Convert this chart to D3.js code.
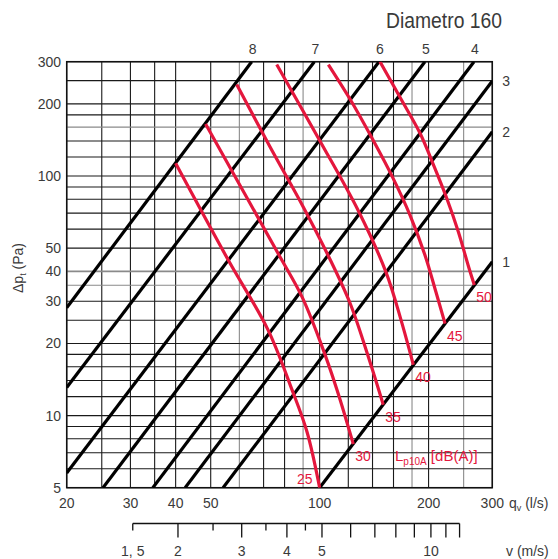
<!DOCTYPE html>
<html>
<head>
<meta charset="utf-8">
<script src="https://cdn.jsdelivr.net/npm/d3@7"></script>
<style>
  html, body { margin: 0; padding: 0; background: #fff; }
  svg { display: block; font-family: "Liberation Sans", Arial, sans-serif; }
</style>
</head>
<body>
<svg id="chart" width="558" height="559"></svg>
<script>
// ---------- data ----------
const title = "Diametro 160";
const qGrid = [20, 25, 30, 35, 40, 50, 60, 70, 80, 90, 100, 120, 140, 160, 180, 200, 250, 300];
const qGridLight = [60, 90, 180, 250];
const dpGrid = [5, 6, 7, 8, 9, 10, 12, 14, 16, 18, 20, 25, 30, 35, 40, 50, 60, 70, 80, 90, 100, 120, 140, 160, 180, 200, 250, 300];
const dpGridLight = [160, 40, 35];
const qTicks = [20, 30, 40, 50, 100, 200, 300];
const dpTicks = [5, 10, 20, 30, 40, 50, 100, 200, 300];

// velocity scale (m/s) for the Ø160 duct
const vTicks = [1.5, 2, 2.5, 3, 3.5, 4, 4.5, 5, 6, 7, 8, 9, 10, 11, 12];
const vShortTicks = [1.5, 2.5, 3.5, 4.5];
const vLabels = [1.5, 2, 3, 4, 5, 10];
const qPerV = 20.3; // l/s per m/s

// black system lines (damper positions) : start [q, dp] and end [q, dp]
const lineNames = ["1", "2", "3", "4", "5", "6", "7", "8"];
const lineStart = [[100, 5], [54.1, 5], [42.5, 5], [34.6, 5], [25.2, 5], [20, 5.76], [20, 13.1], [20, 28.2]];
const lineEnd   = [[300, 43.9], [300, 153], [300, 249], [267, 300], [195.4, 300], [145.9, 300], [96.7, 300], [64.9, 300]];

// red sound level curves Lp10A [dB(A)]  (points [q, dp])
const curveNames = ["25", "30", "35", "40", "45", "50"];
const curve25 = [[40, 113], [55.9, 44.6], [72.0, 22.8], [83.9, 12.8], [92.3, 8.54], [100, 5]];
const curve30 = [[48.4, 164.8], [77.2, 46.8], [89.4, 31.3], [100.2, 20.5], [111.7, 12.8], [123.9, 7.6]];
const curve35 = [[59, 241], [72.9, 132.5], [90.1, 74.3], [105.4, 46.8], [121.3, 29.5], [136.3, 17.6], [149.9, 11.1]];
const curve40 = [[76.1, 292], [100.2, 140], [127.6, 72.1], [152.5, 39.7], [167.8, 25.1], [181.5, 16.3]];
const curve45 = [[105.7, 292], [121.3, 209.6], [139.5, 144], [159.5, 98], [177.7, 68.7], [195.4, 46.8], [209.6, 32.8], [222.1, 24.2]];
const curve50 = [[146.8, 300], [167.8, 209.6], [189.3, 151.1], [207, 110], [224.9, 80.2], [241.8, 58.4], [258.6, 41.3], [267.6, 35.1]];
const curves = [curve25, curve30, curve35, curve40, curve45, curve50];

// ---------- layout ----------
const svg = d3.select("#chart");
const L = 66.7, R = 492.3, T = 61.7, B = 487.7;
const x = d3.scaleLog().domain([20, 300]).range([L, R]);
const y = d3.scaleLog().domain([5, 300]).range([B, T]);
const RED = "#e4173d";
const TXT = "#3a3a3a";

// clip
svg.append("defs").append("clipPath").attr("id", "plot")
  .append("rect").attr("x", L).attr("y", T).attr("width", R - L).attr("height", B - T);

// grid
const g = svg.append("g");
g.selectAll("line.vg").data(qGrid).join("line")
  .attr("x1", d => x(d)).attr("x2", d => x(d)).attr("y1", T).attr("y2", B)
  .attr("stroke", d => qGridLight.includes(d) ? "#8a8a8a" : "#1a1a1a")
  .attr("stroke-width", 1.1);
g.selectAll("line.hg").data(dpGrid).join("line")
  .attr("y1", d => y(d)).attr("y2", d => y(d)).attr("x1", L).attr("x2", R)
  .attr("stroke", d => dpGridLight.includes(d) ? "#8a8a8a" : "#1a1a1a")
  .attr("stroke-width", d => d === 40 ? 1.8 : 1.1);
g.append("rect").attr("x", L).attr("y", T).attr("width", R - L).attr("height", B - T)
  .attr("fill", "none").attr("stroke", "#111").attr("stroke-width", 1.5);

// black lines
const lineGen = d3.line().x(d => x(d[0])).y(d => y(d[1]));
const lg = svg.append("g").attr("clip-path", "url(#plot)");
lg.selectAll("path").data(lineNames.map((n, i) => [lineStart[i], lineEnd[i]])).join("path")
  .attr("d", lineGen).attr("stroke", "#000").attr("stroke-width", 3.2).attr("fill", "none");

// red curves
const curveGen = d3.line().x(d => x(d[0])).y(d => y(d[1])).curve(d3.curveCatmullRom.alpha(0.5));
const cg = svg.append("g").attr("clip-path", "url(#plot)");
cg.selectAll("path").data(curves).join("path")
  .attr("d", curveGen).attr("stroke", RED).attr("stroke-width", 3.2).attr("fill", "none")
  .attr("stroke-linecap", "butt");

// line labels
lineNames.forEach((n, i) => {
  const e = lineEnd[i];
  const t = svg.append("text").text(n).attr("fill", TXT).attr("font-size", 14);
  if (e[1] >= 300) {
    t.attr("x", x(e[0]) + 1).attr("y", T - 8).attr("text-anchor", "middle");
  } else {
    t.attr("x", R + 10).attr("y", y(e[1]) + 5).attr("text-anchor", "start");
  }
});

// curve labels
curveNames.forEach((n, i) => {
  const c = curves[i];
  const e = c[c.length - 1];
  const t = svg.append("text").text(n).attr("fill", RED).attr("font-size", 14);
  if (i === 0) {
    t.attr("x", x(e[0]) - 7).attr("y", y(e[1]) - 4).attr("text-anchor", "end");
  } else {
    t.attr("x", x(e[0]) + 2).attr("y", y(e[1]) + 17).attr("text-anchor", "start");
  }
});

// legend Lp10A [dB(A)]
const leg = svg.append("text").attr("x", 395).attr("y", 461).attr("fill", RED).attr("font-size", 15);
leg.append("tspan").text("L");
leg.append("tspan").text("p10A").attr("font-size", 10).attr("dy", 4);
leg.append("tspan").text(" [dB(A)]").attr("dy", -4);

// axis tick labels
svg.selectAll("text.xt").data(qTicks).join("text")
  .attr("x", d => x(d)).attr("y", 508).attr("text-anchor", "middle")
  .attr("fill", TXT).attr("font-size", 14).text(d => d);
svg.selectAll("text.yt").data(dpTicks).join("text")
  .attr("x", 61).attr("y", d => y(d) + 5).attr("text-anchor", "end")
  .attr("fill", TXT).attr("font-size", 14).text(d => d);

// x axis title
const xt = svg.append("text").attr("x", 509).attr("y", 508).attr("fill", TXT).attr("font-size", 14);
xt.append("tspan").text("q");
xt.append("tspan").text("v").attr("font-size", 9).attr("dy", 3);
xt.append("tspan").text(" (l/s)").attr("dy", -3);

// y axis title
const yt = svg.append("text").attr("transform", "translate(23,268) rotate(-90)")
  .attr("text-anchor", "middle").attr("fill", TXT).attr("font-size", 14);
yt.append("tspan").text("Δp");
yt.append("tspan").text("t").attr("font-size", 9).attr("dy", 3);
yt.append("tspan").text(" (Pa)").attr("dy", -3);

// title
svg.append("text").attr("x", 386).attr("y", 28).attr("fill", TXT).attr("font-size", 22)
  .attr("textLength", 116).attr("lengthAdjust", "spacingAndGlyphs").text(title);

// velocity axis
const vy = 523.5;
const va = svg.append("g");
va.append("line").attr("x1", x(vTicks[0] * qPerV)).attr("x2", x(vTicks[vTicks.length - 1] * qPerV))
  .attr("y1", vy).attr("y2", vy).attr("stroke", "#111").attr("stroke-width", 1.3);
va.selectAll("line.vt").data(vTicks).join("line")
  .attr("x1", d => x(d * qPerV)).attr("x2", d => x(d * qPerV))
  .attr("y1", vy).attr("y2", d => vShortTicks.includes(d) ? vy + 7 : vy + 14)
  .attr("stroke", "#111").attr("stroke-width", 1.3);
va.selectAll("text").data(vLabels).join("text")
  .attr("x", d => x(d * qPerV)).attr("y", 556).attr("text-anchor", "middle")
  .attr("fill", TXT).attr("font-size", 14).text(d => String(d).replace(".", ", "));
svg.append("text").attr("x", 506).attr("y", 556).attr("fill", TXT).attr("font-size", 14).text("v (m/s)");
</script>
</body>
</html>
